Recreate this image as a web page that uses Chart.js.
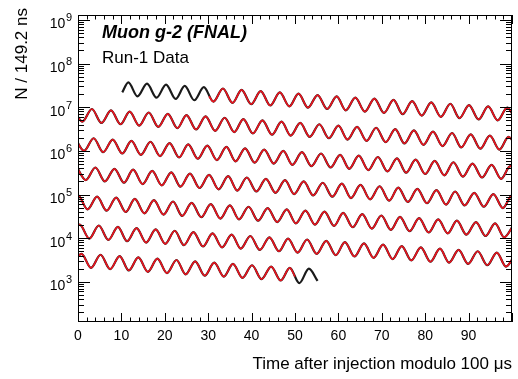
<!DOCTYPE html>
<html>
<head>
<meta charset="utf-8">
<script src="https://cdn.jsdelivr.net/npm/chart.js@4.4.1/dist/chart.umd.min.js"></script>
<style>
  html, body { margin: 0; padding: 0; background: #fff; }
  canvas { display: block; }
</style>
</head>
<body>
<canvas id="wiggle" width="518" height="379"></canvas>
<script>
/* ============================================================
   Muon g-2 (FNAL) Run-1 wiggle plot, wrapped modulo 100 us
   values: extrema of each 100 us slice, log10(N per 149.2 ns)
   ============================================================ */

// slice 0-100 us (starts at 10.2 us)
var t0 = [10.2, 11.6, 13.7, 15.9, 18.1, 20.3, 22.5, 24.6, 26.8, 29.0, 31.2, 33.4, 35.6, 37.7, 39.9, 42.1, 44.3, 46.5, 48.7, 50.8, 53.0, 55.2, 57.4, 59.6, 61.7, 63.9, 66.1, 68.3, 70.5, 72.7, 74.8, 77.0, 79.2, 81.4, 83.6, 85.8, 87.9, 90.1, 92.3, 94.5, 96.7, 98.9, 101.0];
var logN0 = [7.34, 7.57, 7.25, 7.54, 7.22, 7.52, 7.19, 7.49, 7.16, 7.46, 7.13, 7.43, 7.10, 7.40, 7.07, 7.37, 7.04, 7.34, 7.02, 7.31, 6.99, 7.28, 6.96, 7.25, 6.93, 7.22, 6.90, 7.20, 6.87, 7.17, 6.84, 7.14, 6.81, 7.11, 6.78, 7.08, 6.75, 7.05, 6.72, 7.02, 6.70, 6.99, 6.67];

// slice 100-200 us
var t1 = [-1.2, 1.0, 3.2, 5.4, 7.6, 9.8, 11.9, 14.1, 16.3, 18.5, 20.7, 22.9, 25.0, 27.2, 29.4, 31.6, 33.8, 36.0, 38.1, 40.3, 42.5, 44.7, 46.9, 49.0, 51.2, 53.4, 55.6, 57.8, 60.0, 62.1, 64.3, 66.5, 68.7, 70.9, 73.1, 75.2, 77.4, 79.6, 81.8, 84.0, 86.2, 88.3, 90.5, 92.7, 94.9, 97.1, 99.2, 101.4];
var logN1 = [6.99, 6.67, 6.96, 6.64, 6.93, 6.61, 6.90, 6.58, 6.88, 6.55, 6.85, 6.52, 6.82, 6.49, 6.79, 6.46, 6.76, 6.43, 6.73, 6.40, 6.70, 6.37, 6.67, 6.35, 6.64, 6.32, 6.61, 6.29, 6.58, 6.26, 6.55, 6.23, 6.53, 6.20, 6.50, 6.17, 6.47, 6.14, 6.44, 6.11, 6.41, 6.08, 6.38, 6.05, 6.35, 6.03, 6.32, 6.00];

// slice 200-300 us
var t2 = [-0.8, 1.4, 3.6, 5.8, 8.0, 10.2, 12.3, 14.5, 16.7, 18.9, 21.1, 23.3, 25.4, 27.6, 29.8, 32.0, 34.2, 36.3, 38.5, 40.7, 42.9, 45.1, 47.3, 49.4, 51.6, 53.8, 56.0, 58.2, 60.4, 62.5, 64.7, 66.9, 69.1, 71.3, 73.5, 75.6, 77.8, 80.0, 82.2, 84.4, 86.5, 88.7, 90.9, 93.1, 95.3, 97.5, 99.6, 101.8];
var logN2 = [6.32, 6.00, 6.29, 5.97, 6.26, 5.94, 6.23, 5.91, 6.21, 5.88, 6.18, 5.85, 6.15, 5.82, 6.12, 5.79, 6.09, 5.76, 6.06, 5.73, 6.03, 5.71, 6.00, 5.68, 5.97, 5.65, 5.94, 5.62, 5.91, 5.59, 5.89, 5.56, 5.86, 5.53, 5.83, 5.50, 5.80, 5.47, 5.77, 5.44, 5.74, 5.41, 5.71, 5.39, 5.68, 5.36, 5.65, 5.33];

// slice 300-400 us
var t3 = [-0.4, 1.8, 4.0, 6.2, 8.4, 10.6, 12.7, 14.9, 17.1, 19.3, 21.5, 23.6, 25.8, 28.0, 30.2, 32.4, 34.6, 36.7, 38.9, 41.1, 43.3, 45.5, 47.7, 49.8, 52.0, 54.2, 56.4, 58.6, 60.8, 62.9, 65.1, 67.3, 69.5, 71.7, 73.8, 76.0, 78.2, 80.4, 82.6, 84.8, 86.9, 89.1, 91.3, 93.5, 95.7, 97.9, 100.0, 102.2];
var logN3 = [5.65, 5.33, 5.62, 5.30, 5.59, 5.27, 5.57, 5.24, 5.54, 5.21, 5.51, 5.18, 5.48, 5.15, 5.45, 5.12, 5.42, 5.09, 5.39, 5.07, 5.36, 5.04, 5.33, 5.01, 5.30, 4.98, 5.27, 4.95, 5.25, 4.92, 5.22, 4.89, 5.19, 4.86, 5.16, 4.83, 5.13, 4.80, 5.10, 4.77, 5.07, 4.75, 5.04, 4.72, 5.01, 4.69, 4.98, 4.66];

// slice 400-500 us
var t4 = [-2.2, 0.0, 2.2, 4.4, 6.6, 8.8, 11.0, 13.1, 15.3, 17.5, 19.7, 21.9, 24.0, 26.2, 28.4, 30.6, 32.8, 35.0, 37.1, 39.3, 41.5, 43.7, 45.9, 48.1, 50.2, 52.4, 54.6, 56.8, 59.0, 61.1, 63.3, 65.5, 67.7, 69.9, 72.1, 74.2, 76.4, 78.6, 80.8, 83.0, 85.2, 87.3, 89.5, 91.7, 93.9, 96.1, 98.2, 100.4];
var logN4 = [4.69, 4.98, 4.66, 4.95, 4.63, 4.93, 4.60, 4.90, 4.57, 4.87, 4.54, 4.84, 4.51, 4.81, 4.48, 4.78, 4.45, 4.75, 4.43, 4.72, 4.40, 4.69, 4.37, 4.66, 4.34, 4.63, 4.31, 4.61, 4.28, 4.58, 4.25, 4.55, 4.22, 4.52, 4.19, 4.49, 4.16, 4.46, 4.13, 4.43, 4.11, 4.40, 4.08, 4.37, 4.05, 4.34, 4.02, 4.31];

// slice 500-600 us
var t5 = [-1.8, 0.4, 2.6, 4.8, 7.0, 9.2, 11.3, 13.5, 15.7, 17.9, 20.1, 22.3, 24.4, 26.6, 28.8, 31.0, 33.2, 35.4, 37.5, 39.7, 41.9, 44.1, 46.3, 48.4, 50.6, 52.8, 55.0, 57.2, 59.4, 61.5, 63.7, 65.9, 68.1, 70.3, 72.5, 74.6, 76.8, 79.0, 81.2, 83.4, 85.5, 87.7, 89.9, 92.1, 94.3, 96.5, 98.6, 100.8];
var logN5 = [4.02, 4.31, 3.99, 4.29, 3.96, 4.26, 3.93, 4.23, 3.90, 4.20, 3.87, 4.17, 3.84, 4.14, 3.81, 4.11, 3.79, 4.08, 3.76, 4.05, 3.73, 4.02, 3.70, 3.99, 3.67, 3.97, 3.64, 3.94, 3.61, 3.91, 3.58, 3.88, 3.55, 3.85, 3.52, 3.82, 3.49, 3.79, 3.46, 3.76, 3.44, 3.73, 3.41, 3.70, 3.38, 3.67, 3.35, 3.64];

// slice 600-700 us (data end at 655.2 us)
var t6 = [-1.4, 0.8, 3.0, 5.2, 7.4, 9.6, 11.7, 13.9, 16.1, 18.3, 20.5, 22.7, 24.8, 27.0, 29.2, 31.4, 33.6, 35.7, 37.9, 40.1, 42.3, 44.5, 46.7, 48.8, 51.0, 53.2, 55.2];
var logN6 = [3.35, 3.64, 3.32, 3.62, 3.29, 3.59, 3.26, 3.56, 3.23, 3.53, 3.20, 3.50, 3.17, 3.47, 3.14, 3.44, 3.12, 3.41, 3.09, 3.38, 3.06, 3.35, 3.03, 3.32, 2.97, 3.30, 3.02];

// fit range ends (first / last slice)
var fitStart = [30.2, 7.25];
var fitEnd = [50.0, 3.12];

var sliceT = [t0, t1, t2, t3, t4, t5, t6];
var sliceLogN = [logN0, logN1, logN2, logN3, logN4, logN5, logN6];

var yDecades = [3, 4, 5, 6, 7, 8, 9];
var xTickStep = 10;

var experimentLabel = 'Muon g-2 (FNAL)';
var dataLabel = 'Run-1 Data';
var yTitle = 'N / 149.2 ns';
var xTitle = 'Time after injection modulo 100 \u03bcs';

var FONT = "'Liberation Sans', Arial, Helvetica, sans-serif";

/* ----------------------------------------------------------
   Build datasets
   ---------------------------------------------------------- */
function toPoints(ts, logs) {
  return ts.map(function(t, i) { return { x: t, y: Math.pow(10, logs[i]) }; });
}

var datasets = [];
sliceT.forEach(function(ts, i) {
  var pts = toPoints(ts, sliceLogN[i]);
  var fitPts = pts;
  if (i === 0) {
    fitPts = [{ x: fitStart[0], y: Math.pow(10, fitStart[1]) }].concat(pts.filter(function(p) { return p.x > fitStart[0]; }));
  } else if (i === sliceT.length - 1) {
    fitPts = pts.filter(function(p) { return p.x < fitEnd[0]; }).concat([{ x: fitEnd[0], y: Math.pow(10, fitEnd[1]) }]);
  }
  datasets.push({
    label: 'data ' + i, data: pts, order: 2,
    borderColor: '#1a1a1a', borderWidth: 2.2,
    pointRadius: 0, cubicInterpolationMode: 'monotone', clip: 0
  });
  datasets.push({
    label: 'fit ' + i, data: fitPts, order: 1,
    borderColor: '#e8141e', borderWidth: 1.7,
    pointRadius: 0, cubicInterpolationMode: 'monotone', clip: 0
  });
});

/* ----------------------------------------------------------
   Plugins: frame + inner ticks, decade labels, text
   ---------------------------------------------------------- */
var frameTicks = {
  id: 'frameTicks',
  afterDatasetsDraw: function(chart) {
    var ctx = chart.ctx, a = chart.chartArea;
    var xs = chart.scales.x, ys = chart.scales.y;
    ctx.save();
    ctx.strokeStyle = '#000';
    ctx.lineWidth = 1;
    ctx.beginPath();
    for (var v = xs.min; v <= xs.max; v += xTickStep / 5) {
      var px = Math.round(xs.getPixelForValue(v)) + 0.5;
      var len = Math.round(v) % xTickStep === 0 ? 9 : 4.5;
      ctx.moveTo(px, a.bottom); ctx.lineTo(px, a.bottom - len);
      ctx.moveTo(px, a.top); ctx.lineTo(px, a.top + len);
    }
    for (var e = yDecades[0] - 1; e <= yDecades[yDecades.length - 1]; e++) {
      for (var m = 1; m <= 9; m++) {
        var val = m * Math.pow(10, e);
        if (val < ys.min || val > ys.max) continue;
        var py = Math.round(ys.getPixelForValue(val)) + 0.5;
        var l = m === 1 ? 12 : 6;
        ctx.moveTo(a.left, py); ctx.lineTo(a.left + l, py);
        ctx.moveTo(a.right, py); ctx.lineTo(a.right - l, py);
      }
    }
    ctx.stroke();
    ctx.strokeRect(a.left + 0.5, a.top + 0.5, a.right - a.left - 1, a.bottom - a.top - 1);

    // decade labels 10^n
    ctx.fillStyle = '#000';
    ctx.textAlign = 'right';
    ctx.textBaseline = 'alphabetic';
    var xr = a.left - 6;
    yDecades.forEach(function(e) {
      var ty = ys.getPixelForValue(Math.pow(10, e));
      ctx.font = '11px ' + FONT;
      var ew = ctx.measureText(String(e)).width;
      ctx.fillText(String(e), xr, ty + 1.5);
      ctx.font = '14px ' + FONT;
      ctx.fillText('10', xr - ew - 0.5, ty + 8.5);
    });
    ctx.restore();
  }
};

var textLabels = {
  id: 'textLabels',
  afterDraw: function(chart) {
    var ctx = chart.ctx;
    ctx.save();
    ctx.fillStyle = '#000';
    ctx.textAlign = 'left';
    ctx.textBaseline = 'alphabetic';
    ctx.font = 'italic bold 18px ' + FONT;
    ctx.fillText(experimentLabel, 102, 37.5);
    ctx.font = '17px ' + FONT;
    ctx.fillText(dataLabel, 102, 63);
    // y title, right-aligned to the top like ROOT
    ctx.translate(27, 8);
    ctx.rotate(-Math.PI / 2);
    ctx.textAlign = 'right';
    ctx.fillText(yTitle, 0, 0);
    ctx.restore();
  }
};

/* ----------------------------------------------------------
   Chart
   ---------------------------------------------------------- */
new Chart(document.getElementById('wiggle'), {
  type: 'line',
  data: { datasets: datasets },
  options: {
    responsive: false,
    animation: false,
    devicePixelRatio: 1,
    layout: { padding: { top: 15, right: 1, left: 0, bottom: 0 } },
    plugins: { legend: { display: false }, tooltip: { enabled: false } },
    scales: {
      x: {
        type: 'linear', min: 0, max: 100,
        grid: { display: false, drawTicks: false }, border: { display: false },
        ticks: {
          stepSize: xTickStep, autoSkip: false, maxRotation: 0, padding: 6, color: '#000',
          font: { family: FONT, size: 14 },
          callback: function(v) { return v >= 100 ? '' : v; }
        },
        title: { display: true, text: xTitle, align: 'end', color: '#000', font: { family: FONT, size: 17 }, padding: { top: 0, bottom: 4 } },
        afterFit: function(s) { s.height = 57; }
      },
      y: {
        type: 'logarithmic', min: 120, max: 1.3e9,
        grid: { display: false, drawTicks: false }, border: { display: false },
        afterBuildTicks: function(s) {
          s.ticks = yDecades.map(function(e) { return { value: Math.pow(10, e), major: true }; });
        },
        ticks: { display: false },
        afterFit: function(s) { s.width = 78; }
      }
    }
  },
  plugins: [frameTicks, textLabels]
});
</script>
</body>
</html>
